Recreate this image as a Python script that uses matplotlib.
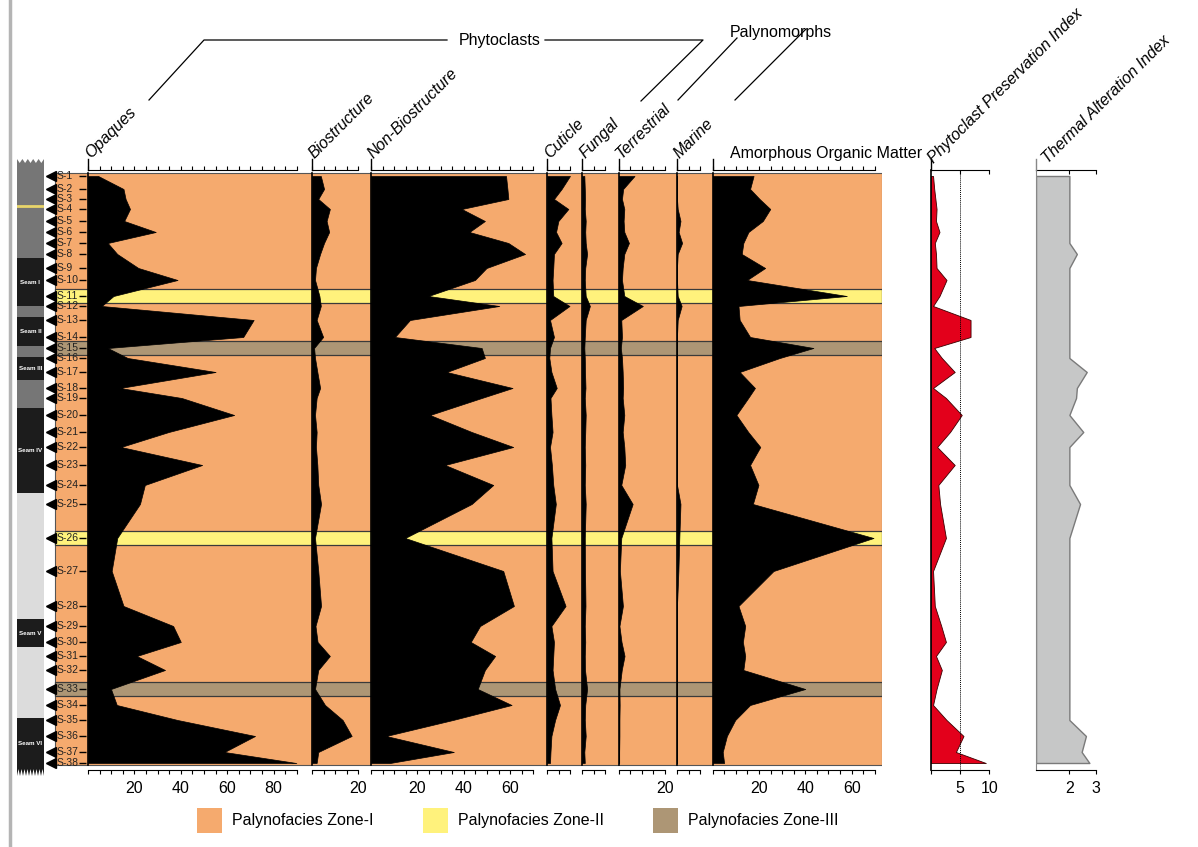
import numpy as np
import matplotlib.pyplot as plt
from matplotlib.patches import Rectangle, Polygon

W, H = 1198, 847
DPI = 100
plt.rcParams['font.family'] = ['Liberation Sans', 'DejaVu Sans']

# samples and their position down the section (same units as the depth axis)
samples = [f"S-{i}" for i in range(1, 39)]
depth = [6, 19, 29, 39, 51, 62, 73, 84, 98, 110, 126, 136, 150, 167, 178, 188, 202, 218, 228,
         245, 262, 277, 295, 315, 334, 368, 401, 436, 456, 472, 486, 500, 519, 535, 550, 566, 582, 593]
zones = ['I'] * 38
zones[10] = 'II'   # S-11
zones[14] = 'III'  # S-15
zones[25] = 'II'   # S-26
zones[32] = 'III'  # S-33

# palynofacies counts (%)
opaques = [4.4, 15.3, 16.2, 18.1, 15.6, 29.2, 8.5, 12.6, 21.7, 38.6,
           11.0, 5.9, 71.4, 66.9, 8.5, 17.1, 55.0, 13.8, 40.4, 63.0,
           34.8, 14.2, 49.2, 24.5, 22.4, 12.6, 10.2, 15.3, 36.7, 40.0,
           21.0, 33.2, 9.9, 12.4, 38.6, 72.0, 58.8, 89.8]
biostructure = [3.8, 5.2, 2.7, 7.7, 6.3, 7.4, 5.2, 3.5, 1.7, 1.3,
                3.2, 3.8, 2.0, 4.8, 0.9, 1.3, 2.3, 3.5, 2.0, 1.3,
                2.0, 1.7, 2.3, 2.7, 3.9, 1.3, 2.7, 3.9, 1.5, 2.4,
                7.7, 2.7, 1.3, 5.6, 13.2, 17.1, 2.7, 2.0]
non_biostructure = [58.2, 58.8, 59.2, 39.1, 49.1, 42.4, 59.2, 66.4, 49.8, 44.8,
                    24.7, 55.3, 16.8, 10.3, 47.7, 49.1, 32.6, 61.0, 47.7, 25.4,
                    43.4, 61.3, 31.9, 52.7, 43.4, 14.7, 57.0, 61.6, 47.0, 43.0,
                    53.5, 49.1, 46.0, 60.6, 35.3, 6.5, 35.7, 8.2]
cuticle = [9.9, 6.3, 3.0, 9.2, 4.9, 3.9, 6.3, 3.0, 2.7, 2.4,
           2.7, 9.7, 1.3, 3.0, 1.3, 1.0, 1.9, 4.2, 1.5, 1.9,
           2.4, 1.3, 2.1, 2.7, 3.8, 1.9, 2.4, 8.0, 1.9, 3.0,
           2.7, 2.4, 3.5, 5.6, 3.5, 1.9, 1.5, 1.3]
fungal = [1.0, 1.2, 1.3, 1.2, 1.6, 1.4, 1.6, 2.2, 1.4, 1.2,
          1.6, 3.4, 1.6, 1.2, 1.0, 1.2, 1.3, 1.5, 1.2, 1.6,
          1.4, 1.2, 1.4, 1.2, 1.6, 1.2, 1.3, 1.5, 1.2, 1.4,
          1.2, 1.3, 2.2, 1.4, 1.2, 1.6, 1.0, 1.2]
terrestrial = [6.9, 2.0, 1.5, 2.5, 2.2, 2.5, 4.5, 2.5, 1.8, 1.5,
               2.5, 10.5, 1.2, 1.5, 1.0, 1.5, 1.8, 2.0, 1.8, 2.5,
               1.8, 2.5, 2.9, 1.2, 6.1, 1.2, 0.6, 1.9, 0.4, 1.3,
               2.6, 1.4, 0.4, 0.5, 0.4, 0.4, 0.3, 0.3]
marine = [0, 0, 0, 0.3, 1.5, 0.7, 2.2, 0.3, 0, 0,
          0.3, 2.0, 0.3, 0, 0, 0, 0, 0, 0, 0,
          0, 0, 0, 0, 1.5, 1.0, 0.6, 0, 0, 0,
          0, 0, 0, 0, 0, 0, 0, 0]
aom = [17.7, 16.2, 20.3, 24.9, 21.7, 15.5, 13.3, 12.6, 22.7, 14.9,
       57.9, 11.2, 11.7, 16.2, 43.5, 29.0, 11.7, 18.3, 15.4, 10.3,
       15.4, 20.6, 16.2, 19.8, 17.4, 69.4, 26.3, 11.2, 14.1, 13.1,
       14.1, 13.3, 40.0, 16.2, 9.8, 6.2, 4.4, 5.0]
ppi = [0.4, 0.6, 0.8, 1.0, 0.9, 1.5, 0.7, 0.9, 1.0, 2.7,
       1.5, 0.4, 6.8, 6.8, 0.6, 1.9, 4.1, 0.4, 2.6, 5.3,
       3.3, 1.1, 4.1, 1.3, 1.6, 2.6, 0.4, 0.7, 1.8, 2.6,
       0.9, 1.9, 1.0, 0.4, 2.7, 5.6, 4.3, 9.4]
tai = [2, 2, 2, 2, 2, 2, 2, 2.28, 2, 2,
       2, 2, 2, 2, 2, 2, 2.65, 2.28, 2.25, 2,
       2.52, 2, 2, 2, 2.4, 2, 2, 2, 2, 2,
       2, 2, 2, 2, 2, 2.62, 2.46, 2.75]

panel_names = ['Opaques', 'Biostructure', 'Non-Biostructure', 'Cuticle', 'Fungal',
               'Terrestrial', 'Marine', 'Amorphous Organic Matter']
panel_data = [opaques, biostructure, non_biostructure, cuticle, fungal, terrestrial, marine, aom]
panel_tickmax = [90, 20, 70, 10, 10, 20, 10, 70]

# lithology log
litho_top = [-6, 88, 136, 147, 176, 187, 210, 238, 323, 449, 477, 548]
litho_base = [88, 136, 147, 176, 187, 210, 238, 323, 449, 477, 548, 598]
litho_kind = ['shale', 'coal', 'shale', 'coal', 'shale', 'coal', 'shale', 'coal',
              'sandstone', 'coal', 'sandstone', 'coal']
seam_names = ['Seam I', 'Seam II', 'Seam III', 'Seam IV', 'Seam V', 'Seam VI']
tonstein_depth = 36

ORANGE, YELLOW, BROWN = '#f5aa6e', '#fff27c', '#ad9675'
zone_colors = {'I': ORANGE, 'II': YELLOW, 'III': BROWN}
zone_labels = ['Palynofacies Zone-I', 'Palynofacies Zone-II', 'Palynofacies Zone-III']
litho_colors = {'shale': '#767676', 'coal': '#1c1c1c', 'sandstone': '#dcdcdc'}

FS = 11.5
TOP, BOT = 170, 770          # pixel rows of the depth axis
PCT_SCALE = 2.32             # px per percent
BAND = 7                     # half height of a zone band

fig = plt.figure(figsize=(W / DPI, H / DPI), dpi=DPI)


def px_axes(x0, x1, y0=TOP, y1=BOT, **kw):
    ax = fig.add_axes([x0 / W, 1 - y1 / H, (x1 - x0) / W, (y1 - y0) / H], **kw)
    ax.set_ylim(BOT - TOP, 0)
    return ax


# pixel overlay for headers, connectors and legend
ov = fig.add_axes([0, 0, 1, 1], zorder=5)
ov.set_xlim(0, W)
ov.set_ylim(H, 0)
ov.axis('off')
ov.plot([10, 10], [0, H], color='#b4b4b4', lw=2.5)

# ---- lithology column
st = px_axes(17, 44)
st.set_xlim(0, 1)
st.axis('off')
for top, base, kind in zip(litho_top, litho_base, litho_kind):
    st.add_patch(Rectangle((0, top), 1, base - top, facecolor=litho_colors[kind], lw=0,
                           clip_on=False))
st.axhline(tonstein_depth, color='#e8d56a', lw=2)
xs = np.linspace(0, 1, 11)
zig = [(x, -11 if k % 2 == 0 else -7) for k, x in enumerate(xs)]
st.add_patch(Polygon(zig + [(1, -5), (0, -5)], closed=True, facecolor=litho_colors['shale'],
                     lw=0, clip_on=False))
n_teeth = 9
fray = [(0, 596)]
for k in range(n_teeth):
    fray += [(k / n_teeth, 606), ((k + 0.5) / n_teeth, 599)]
fray += [(1, 606), (1, 596)]
st.add_patch(Polygon(fray, closed=True, facecolor=litho_colors['coal'], lw=0, clip_on=False))
coal = [(t, b) for t, b, k in zip(litho_top, litho_base, litho_kind) if k == 'coal']
for (t, b), name in zip(coal, seam_names):
    st.text(0.5, (t + b) / 2, name, color='white', fontsize=4.5, fontweight='bold',
            ha='center', va='center')

# ---- background: zones, sample markers
bg = px_axes(44, 882)
bg.set_xlim(44, 882)
bg.axis('off')
bg.add_patch(Rectangle((55, 3), 882 - 55, 592, facecolor=ORANGE, edgecolor='#555555', lw=0.8))
for d, z in zip(depth, zones):
    if z != 'I':
        bg.add_patch(Rectangle((55, d - BAND), 882 - 55, 2 * BAND, facecolor=zone_colors[z],
                               edgecolor='#3a3a3a', lw=0.9))
bg.plot([50.5] * len(depth), depth, ls='none', marker='<', ms=6.5, color='k')
for d, s in zip(depth, samples):
    bg.text(57, d, s, fontsize=7.5, ha='left', va='center', color='#222222')
bg.hlines(depth, 79, 86, color='k', lw=1)

# ---- percentage panels
edges = [88, 312, 371, 547, 582, 618.5, 677, 712.5, 882]
for i, (vals, tmax) in enumerate(zip(panel_data, panel_tickmax)):
    x0, x1 = edges[i], edges[i + 1]
    ax = px_axes(x0, x1)
    ax.patch.set_visible(False)
    ax.set_xlim(0, (x1 - x0) / PCT_SCALE)
    ax.fill_betweenx(depth, 0, vals, facecolor='k', edgecolor='k', lw=0.5)
    ax.spines['right'].set_visible(False)
    ax.spines['left'].set_bounds(3, 595)
    ax.spines['left'].set_linewidth(1.2)
    for side in ['top', 'bottom']:
        ax.spines[side].set_bounds(0, tmax)
        ax.spines[side].set_linewidth(0.8)
    ticks = np.arange(0, tmax + 1, 5)
    ax.set_xticks(ticks)
    ax.set_xticklabels([str(t) if t and t % 20 == 0 else '' for t in ticks])
    ax.set_yticks([])
    ax.tick_params(axis='x', top=True, bottom=True, direction='out', length=3, width=0.8,
                   labelsize=FS, pad=5)

    ov.plot([x0, x0], [159, TOP], color='k', lw=1)
    if i < 7:
        ov.text(x0 + 5, 161, panel_names[i], rotation=45, rotation_mode='anchor', ha='left',
                va='bottom', style='italic', fontsize=FS)
    else:
        ov.text(730, 161, panel_names[i], ha='left', va='bottom', fontsize=FS)


def top_ticks(ax, ticks):
    sec = ax.secondary_xaxis('top')
    sec.set_xticks(ticks)
    sec.tick_params(direction='in', length=3, width=0.8, labeltop=False)
    sec.spines['top'].set_visible(False)
    ax.tick_params(axis='x', top=False)


# ---- phytoclast preservation index
pa = px_axes(930.7, 996)
pa.patch.set_visible(False)
pa.set_xlim(0, (996 - 930.7) / 5.86)
pa.fill_betweenx(depth, 0, ppi, facecolor='#e3001b', edgecolor='#3a0000', lw=0.6)
pa.axvline(5, color='k', ls=(0, (1, 1)), lw=0.7)
pa.spines['right'].set_visible(False)
pa.spines['left'].set_linewidth(1.2)
for side in ['top', 'bottom']:
    pa.spines[side].set_bounds(0, 10)
    pa.spines[side].set_linewidth(0.8)
pa.set_xticks([0, 5, 10])
pa.set_xticklabels(['', '5', '10'])
pa.set_yticks([])
pa.tick_params(axis='x', bottom=True, direction='out', length=3, width=0.8, labelsize=FS, pad=5)
top_ticks(pa, [5, 10])
ov.plot([930.7, 930.7], [159, TOP], color='k', lw=1)
ov.text(936, 166, 'Phytoclast Preservation Index', rotation=45, rotation_mode='anchor',
        ha='left', va='bottom', style='italic', fontsize=FS)

# ---- thermal alteration index
tai_lo = 0.75
ta = px_axes(1036, 1102)
ta.patch.set_visible(False)
ta.set_xlim(tai_lo, tai_lo + 66 / 26.7)
ta.fill_betweenx(depth, tai_lo, tai, facecolor='#c6c7c7', edgecolor='#7a7a7a', lw=1)
ta.spines['right'].set_visible(False)
ta.spines['left'].set_color('#888888')
for side in ['top', 'bottom']:
    ta.spines[side].set_bounds(tai_lo, 3)
    ta.spines[side].set_linewidth(0.8)
ta.set_xticks([2, 3])
ta.set_yticks([])
ta.tick_params(axis='x', bottom=True, direction='out', length=3, width=0.8, labelsize=FS, pad=5)
top_ticks(ta, [2, 3])
ov.plot([1036, 1036], [159, TOP], color='#888888', lw=1)
ov.text(1050, 166, 'Thermal Alteration Index', rotation=45, rotation_mode='anchor',
        ha='left', va='bottom', style='italic', fontsize=FS)

# ---- group headers
ov.text(500, 40, 'Phytoclasts', ha='center', va='center', fontsize=FS)
ov.plot([149, 204, 447], [100, 40, 40], color='k', lw=0.9)
ov.plot([545, 703, 641], [40, 40, 101], color='k', lw=0.9)
ov.text(781, 33, 'Palynomorphs', ha='center', va='center', fontsize=FS)
ov.plot([737, 678], [38, 100], color='k', lw=0.9)
ov.plot([806, 735], [29, 100], color='k', lw=0.9)

# ---- legend
for x, label, z in zip([197, 423, 653], zone_labels, ['I', 'II', 'III']):
    ov.add_patch(Rectangle((x, 808), 25, 25, facecolor=zone_colors[z], edgecolor='none'))
    ov.text(x + 35, 821, label, ha='left', va='center', fontsize=FS)

fig.savefig('out.png', dpi=DPI)
